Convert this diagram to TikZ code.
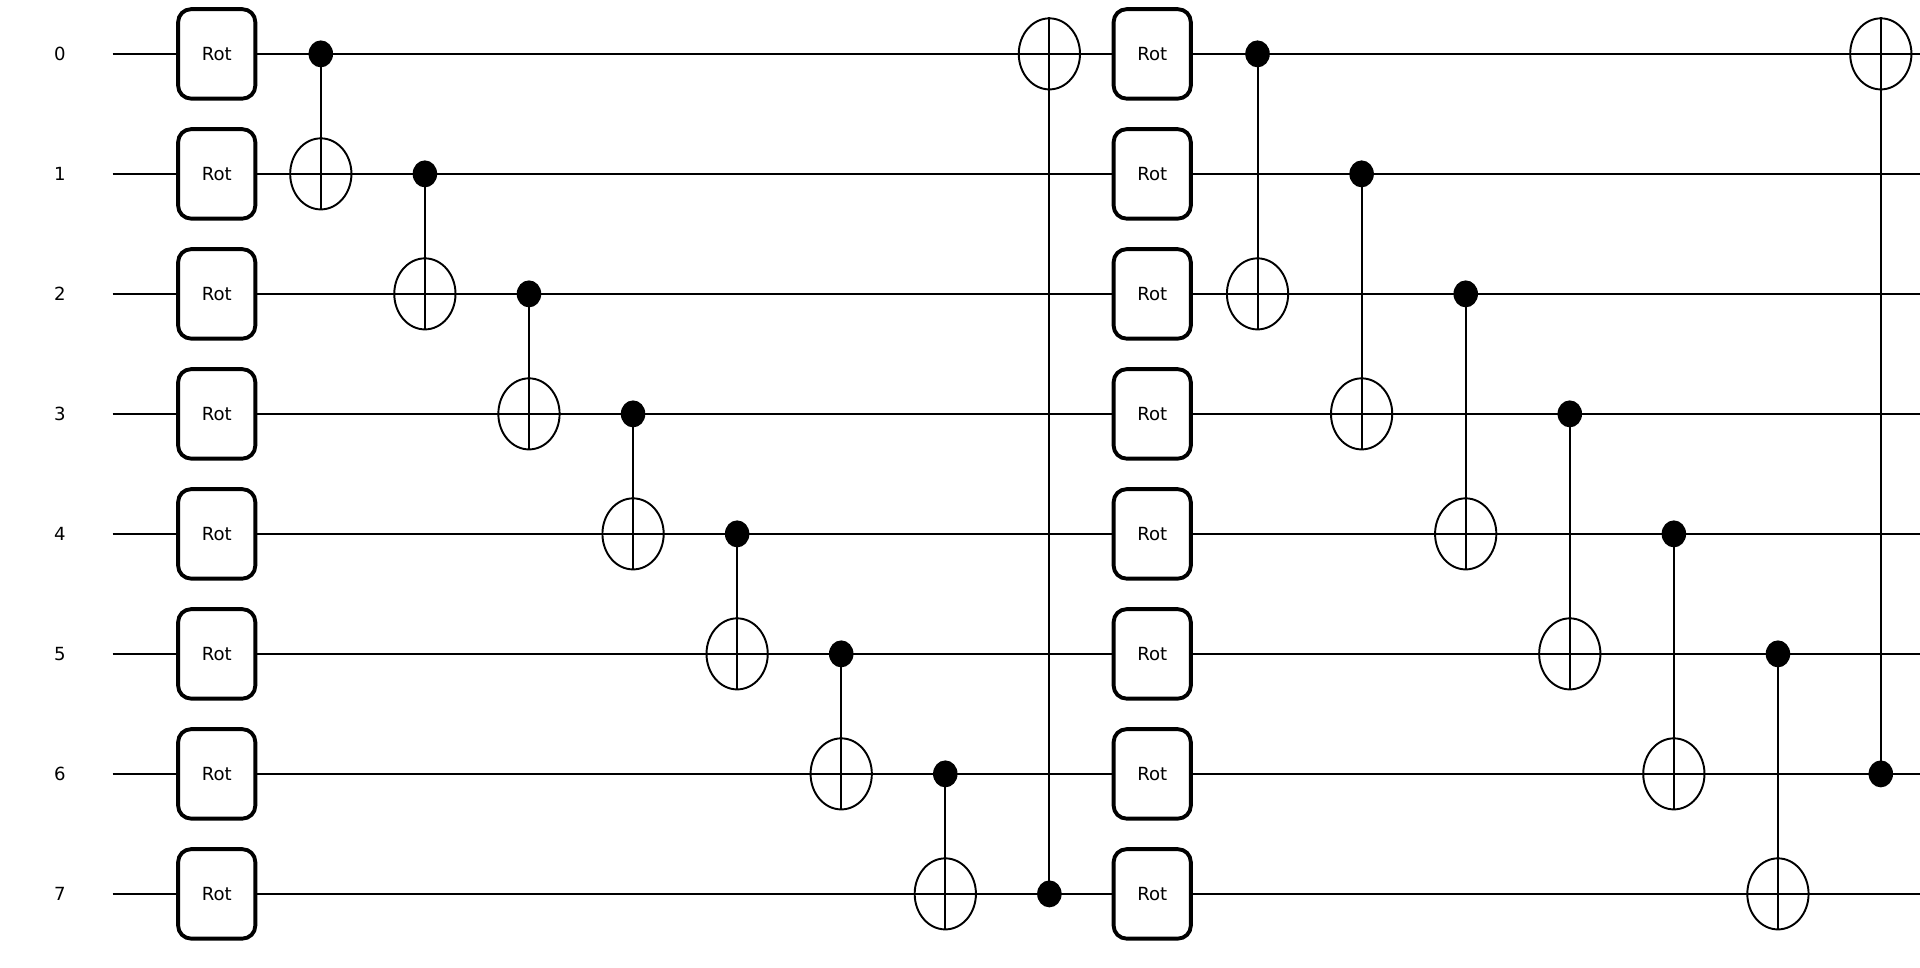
\documentclass[tikz,border=0pt]{standalone}
\usepackage{fontspec}
\setmainfont{DejaVu Sans}
\usetikzlibrary{shapes.geometric}
\begin{document}
\begin{tikzpicture}[x=0.01cm,y=-0.01cm,
  wire/.style={line width=0.45pt},
  rotbox/.style={draw,line width=0.9pt,rounded corners=2.8pt,fill=white,minimum width=63\pgfxy@dummy,inner sep=0pt,font=\fontsize{4.2}{5}\selectfont},
  targ/.style={ellipse,draw,line width=0.45pt,fill=white,minimum width=0.5cm,minimum height=0.58cm,inner sep=0pt},
  ctrl/.style={ellipse,fill=black,minimum width=0.2cm,minimum height=0.22cm,inner sep=0pt},
  lab/.style={font=\fontsize{4.2}{5}\selectfont}]
\useasboundingbox (0,0) rectangle (1568,790.5);
\foreach \i in {0,...,7}{
  \pgfmathsetmacro\yy{44+98*\i}
  \node[lab] (l\i) at (49,\yy) {\i};
  \coordinate (ws\i) at (92,\yy);
  \coordinate (we\i) at (1568,\yy);
  \draw[wire] (ws\i) -- (we\i);
}
% CNOTs: x, control, target
\foreach \x/\c/\t [count=\k] in {262/0/1,347/1/2,432/2/3,517/3/4,602/4/5,687/5/6,772/6/7,857/7/0,
  1027/0/2,1112/1/3,1197/2/4,1282/3/5,1367/4/6,1452/5/7,1536/6/0}{
  \pgfmathsetmacro\yc{44+98*\c}
  \pgfmathsetmacro\yt{44+98*\t}
  \node[targ] (t\k) at (\x,\yt) {};
  \node[ctrl] (c\k) at (\x,\yc) {};
  \ifnum\c<\t
    \draw[wire] (c\k.center) -- (t\k.south);
  \else
    \draw[wire] (c\k.center) -- (t\k.north);
  \fi
  \draw[wire] (t\k.west) -- (t\k.east);
}
\foreach \i in {0,...,7}{
  \pgfmathsetmacro\yy{44+98*\i}
  \node[draw,line width=0.9pt,rounded corners=3pt,fill=white,minimum width=0.63cm,minimum height=0.73cm,inner sep=0pt,font=\fontsize{4.2}{5}\selectfont] (ra\i) at (177,\yy) {Rot};
  \node[draw,line width=0.9pt,rounded corners=3pt,fill=white,minimum width=0.63cm,minimum height=0.73cm,inner sep=0pt,font=\fontsize{4.2}{5}\selectfont] (rb\i) at (941,\yy) {Rot};
}
\end{tikzpicture}
\end{document}
